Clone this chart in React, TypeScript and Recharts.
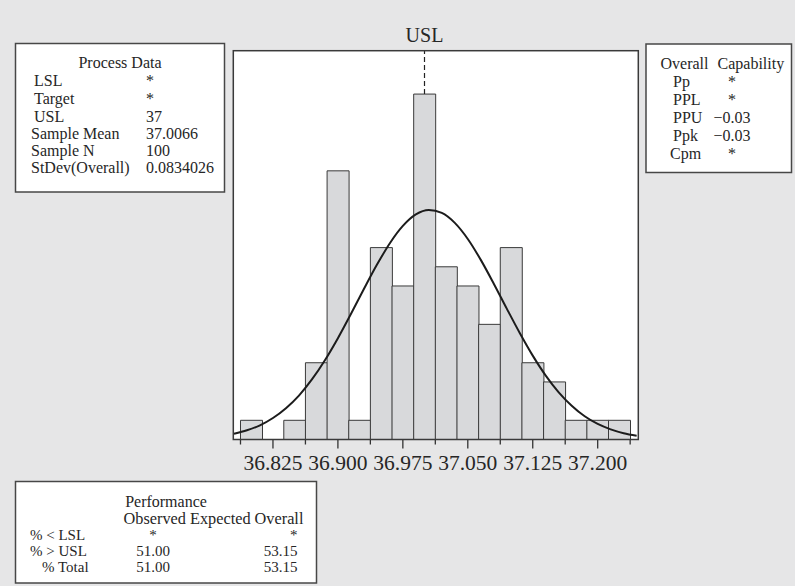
import React from 'react';
import { ComposedChart, Bar, Line, XAxis, YAxis, ReferenceLine } from 'recharts';

// histogram bins (centre of each 0.025 wide class) and their counts
const binCenters = [36.8, 36.825, 36.85, 36.875, 36.9, 36.925, 36.95, 36.975, 37.0, 37.025, 37.05, 37.075, 37.1, 37.125, 37.15, 37.175, 37.2, 37.225];
const binCounts = [1, 0, 1, 4, 14, 1, 10, 8, 18, 9, 8, 6, 10, 4, 3, 1, 1, 1];
const binWidth = 0.025;

// fitted normal curve
const fitX = [36.78, 36.795, 36.81, 36.825, 36.84, 36.855, 36.87, 36.885, 36.9, 36.915, 36.93, 36.945, 36.96, 36.975, 36.99, 37.005, 37.02, 37.035, 37.05, 37.065, 37.08, 37.095, 37.11, 37.125, 37.14, 37.155, 37.17, 37.185, 37.2, 37.215, 37.23, 37.245];
const fitY = [0.30, 0.48, 0.74, 1.12, 1.63, 2.29, 3.13, 4.13, 5.28, 6.54, 7.84, 9.10, 10.23, 11.13, 11.73, 11.96, 11.81, 11.29, 10.45, 9.36, 8.12, 6.82, 5.55, 4.37, 3.33, 2.46, 1.76, 1.21, 0.81, 0.53, 0.33, 0.20];

const majorTicks = [36.825, 36.9, 36.975, 37.05, 37.125, 37.2];
const minorTicks = [36.7875, 36.8625, 36.9375, 37.0125, 37.0875, 37.1625, 37.2375];
const xDomain = [36.7792, 37.2469];
const yMax = 20.26;
const usl = 37;

const processLabels = ['LSL', 'Target', 'USL', 'Sample Mean', 'Sample N', 'StDev(Overall)'];
const processValues = ['*', '*', '37', '37.0066', '100', '0.0834026'];
const capLabels = ['Pp', 'PPL', 'PPU', 'Ppk', 'Cpm'];
const capValues = ['*', '*', '\u22120.03', '\u22120.03', '*'];
const perfLabels = ['% < LSL', '% > USL', '% Total'];
const perfObserved = ['*', '51.00', '51.00'];
const perfExpected = ['*', '53.15', '53.15'];

const W = 795;
const H = 586;
const plot = { left: 233.3, top: 50.7, right: 638.3, bottom: 439.5 };
const plotW = plot.right - plot.left;
const font = "'Liberation Serif', 'Times New Roman', serif";
const ink = '#262626';
const boxStroke = '#474747';
const procRows = [86, 104, 122, 139, 156, 173];

const bins = binCenters.map((c, i) => ({ bin: c, count: binCounts[i] }));
const fit = fitX.map((x, i) => ({ x, fit: fitY[i] }));
const allTicks = [...majorTicks, ...minorTicks].sort((a, b) => a - b);

const toPx = (v: number) => ((v - xDomain[0]) / (xDomain[1] - xDomain[0])) * plotW;
const padLeft = toPx(binCenters[0] - binWidth / 2);
const padRight = plotW - toPx(binCenters[binCenters.length - 1] + binWidth / 2);
const uslCount = binCounts[binCenters.findIndex((c) => Math.abs(c - usl) < binWidth / 2)];

const AxisTick = (props: any) => {
  const { x, y, payload } = props;
  const major = majorTicks.includes(payload.value);
  return (
    <g>
      <line x1={x} x2={x} y1={y} y2={y + (major ? 9 : 5)} stroke="#333" strokeWidth={1.3} />
      {major && (
        <text x={x} y={y + 30.5} textAnchor="middle" fontSize={21.5} fontFamily={font} fill={ink}>
          {payload.value.toFixed(3)}
        </text>
      )}
    </g>
  );
};

const Boxes = () => (
  <svg width={W} height={H} style={{ position: 'absolute', left: 0, top: 0, pointerEvents: 'none' }} fontFamily={font} fill={ink}>
    {/* plot frame */}
    <rect x={plot.left} y={plot.top} width={plotW} height={plot.bottom - plot.top} fill="none" stroke="#3a3a3a" strokeWidth={1.5} />

    {/* Process Data */}
    <rect x={15.5} y={43.5} width={209} height={148.5} fill="#fff" stroke={boxStroke} strokeWidth={1.5} />
    <text x={120} y={68} textAnchor="middle" fontSize={16}>Process Data</text>
    {processLabels.map((l, i) => (
      <g key={l}>
        <text x={i < 3 ? 34 : 31} y={procRows[i]} fontSize={16}>{l}</text>
        <text x={146} y={procRows[i]} fontSize={16}>{processValues[i]}</text>
      </g>
    ))}

    {/* Overall Capability */}
    <rect x={646} y={44} width={145.5} height={128.5} fill="#fff" stroke={boxStroke} strokeWidth={1.5} />
    <text x={660.5} y={69} fontSize={16}>Overall</text>
    <text x={717.5} y={69} fontSize={16}>Capability</text>
    {capLabels.map((l, i) => (
      <g key={l}>
        <text x={l === 'Cpm' ? 670 : 673} y={87 + i * 18} fontSize={16}>{l}</text>
        <text x={732} y={87 + i * 18} fontSize={16} textAnchor="middle">{capValues[i]}</text>
      </g>
    ))}

    {/* Performance */}
    <rect x={15.5} y={481.5} width={301} height={101.5} fill="#fff" stroke={boxStroke} strokeWidth={1.5} />
    <text x={166} y={507} textAnchor="middle" fontSize={16}>Performance</text>
    <text x={123.5} y={524} fontSize={16.3}>Observed Expected Overall</text>
    {perfLabels.map((l, i) => (
      <g key={l}>
        <text x={i < 2 ? 30 : 42} y={540 + i * 15.8} fontSize={15}>{l}</text>
        <text x={153} y={540 + i * 15.8} fontSize={15} textAnchor="middle">{perfObserved[i]}</text>
        <text x={297.5} y={540 + i * 15.8} fontSize={15} textAnchor="end">{perfExpected[i]}</text>
      </g>
    ))}
  </svg>
);

export default function App() {
  return (
    <div style={{ position: 'fixed', left: 0, top: 0, width: W, height: H, background: '#e6e6e7', overflow: 'hidden' }}>
      <div style={{ position: 'absolute', left: plot.left, top: plot.top, width: plotW, height: plot.bottom - plot.top, background: '#fff' }} />
      <div style={{ position: 'absolute', left: 0, top: 0 }}>
        <ComposedChart
          width={W}
          height={H}
          data={bins}
          margin={{ top: plot.top, right: W - plot.right, bottom: H - plot.bottom - 40, left: plot.left }}
          barCategoryGap={0}
          barGap={0}
        >
          <XAxis
            xAxisId="num"
            dataKey="x"
            type="number"
            domain={xDomain}
            allowDataOverflow
            ticks={allTicks}
            interval={0}
            tickSize={0}
            tickMargin={0}
            axisLine={false}
            tickLine={false}
            tick={<AxisTick />}
            height={40}
          />
          <XAxis xAxisId="bins" dataKey="bin" type="category" hide height={0} padding={{ left: padLeft, right: padRight }} />
          <YAxis hide domain={[0, yMax]} allowDataOverflow />
          <ReferenceLine
            xAxisId="num"
            segment={[{ x: usl, y: uslCount }, { x: usl, y: yMax }]}
            stroke="#222"
            strokeWidth={1.2}
            strokeDasharray="5 3"
            label={{ value: 'USL', position: 'top', offset: 9, fontSize: 20, fontFamily: font, fill: ink }}
          />
          <Bar xAxisId="bins" dataKey="count" fill="#d8d9db" stroke="#3a3a3a" strokeWidth={1} isAnimationActive={false} />
          <Line
            xAxisId="num"
            data={fit}
            dataKey="fit"
            type="monotone"
            dot={false}
            stroke="#1c1c1c"
            strokeWidth={2}
            isAnimationActive={false}
          />
        </ComposedChart>
      </div>
      <Boxes />
    </div>
  );
}
